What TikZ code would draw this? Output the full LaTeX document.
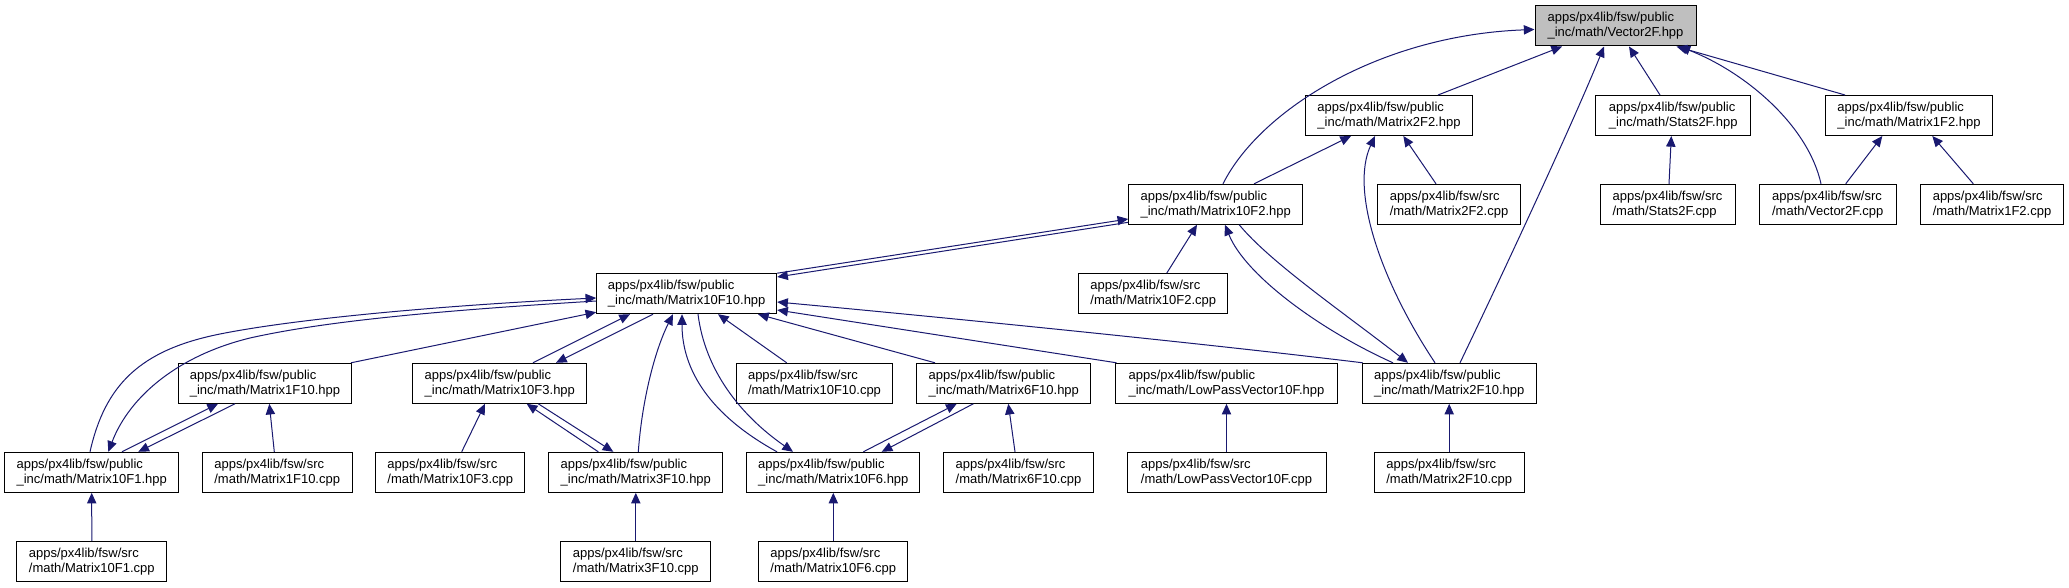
\documentclass[tikz,border=0pt]{standalone}
\usepackage{fontspec}
\setmainfont{Liberation Sans}
\usetikzlibrary{arrows.meta,calc}
\definecolor{edgeblue}{RGB}{25,25,112}
\definecolor{hlgray}{RGB}{191,191,191}
\begin{document}
\begin{tikzpicture}[x=0.75pt,y=-0.75pt,
  box/.style={draw=black,line width=0.75pt,minimum height=30pt,inner sep=0pt,align=left,
    font=\fontsize{9.75}{11.25}\selectfont},
  hl/.style={box,fill=hlgray},
  wd/.style={minimum width=#1*0.75pt},
  edge/.style={draw=edgeblue,line width=0.75pt,-{Triangle[length=8pt,width=7pt]}}]
\fill[white] (0,0) rectangle (2069,588);
\useasboundingbox (0,0) rectangle (2069,588);

% row 0
\node[hl,wd=161] (V2F) at (1615.5,26) {apps/px4lib/fsw/public\\\_inc/math/Vector2F.hpp};
% row 1
\node[box,wd=166.6] (M2F2) at (1389,115.5) {apps/px4lib/fsw/public\\\_inc/math/Matrix2F2.hpp};
\node[box,wd=155] (S2F) at (1673.2,115.5) {apps/px4lib/fsw/public\\\_inc/math/Stats2F.hpp};
\node[box,wd=166.6] (M1F2) at (1909,115.5) {apps/px4lib/fsw/public\\\_inc/math/Matrix1F2.hpp};
% row 2
\node[box,wd=174] (M10F2) at (1215.7,204.3) {apps/px4lib/fsw/public\\\_inc/math/Matrix10F2.hpp};
\node[box,wd=142.6] (M2F2c) at (1449,204.3) {apps/px4lib/fsw/src\\/math/Matrix2F2.cpp};
\node[box,wd=135] (S2Fc) at (1667.5,204.3) {apps/px4lib/fsw/src\\/math/Stats2F.cpp};
\node[box,wd=137.3] (V2Fc) at (1827.7,204.3) {apps/px4lib/fsw/src\\/math/Vector2F.cpp};
\node[box,wd=142.6] (M1F2c) at (1992,204.3) {apps/px4lib/fsw/src\\/math/Matrix1F2.cpp};
% row 3
\node[box,wd=180] (M10F10) at (686.7,293.7) {apps/px4lib/fsw/public\\\_inc/math/Matrix10F10.hpp};
\node[box,wd=149.3] (M10F2c) at (1153.3,293.7) {apps/px4lib/fsw/src\\/math/Matrix10F2.cpp};
% row 4
\node[box,wd=173.4] (M1F10) at (265,383.3) {apps/px4lib/fsw/public\\\_inc/math/Matrix1F10.hpp};
\node[box,wd=173.7] (M10F3) at (499.8,383.3) {apps/px4lib/fsw/public\\\_inc/math/Matrix10F3.hpp};
\node[box,wd=155.6] (M10F10c) at (814.5,383.3) {apps/px4lib/fsw/src\\/math/Matrix10F10.cpp};
\node[box,wd=173.7] (M6F10) at (1003.8,383.3) {apps/px4lib/fsw/public\\\_inc/math/Matrix6F10.hpp};
\node[box,wd=222.4] (LPV) at (1226.5,383.3) {apps/px4lib/fsw/public\\\_inc/math/LowPassVector10F.hpp};
\node[box,wd=173.7] (M2F10) at (1449.2,383.3) {apps/px4lib/fsw/public\\\_inc/math/Matrix2F10.hpp};
% row 5
\node[box,wd=174] (M10F1) at (91.7,472.3) {apps/px4lib/fsw/public\\\_inc/math/Matrix10F1.hpp};
\node[box,wd=149.7] (M1F10c) at (277.2,472.3) {apps/px4lib/fsw/src\\/math/Matrix1F10.cpp};
\node[box,wd=149.3] (M10F3c) at (450.3,472.3) {apps/px4lib/fsw/src\\/math/Matrix10F3.cpp};
\node[box,wd=173.7] (M3F10) at (635.8,472.3) {apps/px4lib/fsw/public\\\_inc/math/Matrix3F10.hpp};
\node[box,wd=173.3] (M10F6) at (833.3,472.3) {apps/px4lib/fsw/public\\\_inc/math/Matrix10F6.hpp};
\node[box,wd=149.6] (M6F10c) at (1018.5,472.3) {apps/px4lib/fsw/src\\/math/Matrix6F10.cpp};
\node[box,wd=199] (LPVc) at (1226.5,472.3) {apps/px4lib/fsw/src\\/math/LowPassVector10F.cpp};
\node[box,wd=149.7] (M2F10c) at (1449.2,472.3) {apps/px4lib/fsw/src\\/math/Matrix2F10.cpp};
% row 6
\node[box,wd=149.7] (M10F1c) at (91.8,561.7) {apps/px4lib/fsw/src\\/math/Matrix10F1.cpp};
\node[box,wd=149.7] (M3F10c) at (635.8,561.7) {apps/px4lib/fsw/src\\/math/Matrix3F10.cpp};
\node[box,wd=149.3] (M10F6c) at (833.3,561.7) {apps/px4lib/fsw/src\\/math/Matrix10F6.cpp};

% edges into Vector2F
\draw[edge] ($(M2F2.north)+(49,0)$) -- ($(V2F.south)+(-53.5,0)$);
\draw[edge] ($(M10F2.north)+(7.3,0)$) .. controls (1260,110) and (1380,35) .. ($(V2F.west)+(0,3.5)$);
\draw[edge] ($(M2F10.north)+(10.8,0)$) .. controls (1495,290) and (1570,130) .. ($(V2F.south)+(-11.5,0)$);
\draw[edge] ($(S2F.north)+(-13.2,0)$) -- ($(V2F.south)+(13.5,0)$);
\draw[edge] ($(V2Fc.north)+(-6.7,0)$) .. controls (1808,125) and (1745,72) .. ($(V2F.south)+(64,0)$);
\draw[edge] ($(M1F2.north)+(-64,0)$) -- ($(V2F.south)+(61,0)$);
% row 1 parents
\draw[edge] ($(M10F2.north)+(38.3,0)$) -- ($(M2F2.south)+(-38,0)$);
\draw[edge] ($(M2F2c.north)+(-13,0)$) -- ($(M2F2.south)+(14.3,0)$);
\draw[edge] ($(M2F10.north)+(-14.2,0)$) .. controls (1380,280) and (1350,190) .. ($(M2F2.south)+(-14,0)$);
\draw[edge] ($(S2Fc.north)+(1.5,0)$) -- ($(S2F.south)+(-1.9,0)$);
\draw[edge] ($(V2Fc.north)+(18,0)$) -- ($(M1F2.south)+(-26.7,0)$);
\draw[edge] ($(M1F2c.north)+(-18.7,0)$) -- ($(M1F2.south)+(23.3,0)$);
% Matrix10F2
\draw[edge] (M10F10.north east) -- ($(M10F2.west)+(0,14.7)$);
\draw[edge] ($(M10F2.west)+(0,18)$) -- ($(M10F10.east)+(0,-16.7)$);
\draw[edge] ($(M10F2c.north)+(13.4,0)$) -- ($(M10F2.south)+(-18.7,0)$);
\draw[edge] ($(M2F10.north)+(-56.2,0)$) .. controls (1320,330) and (1245,275) .. ($(M10F2.south)+(9.3,0)$);
\draw[edge] ($(M10F2.south)+(23.5,0)$) .. controls (1270,262) and (1340,310) .. ($(M2F10.north)+(-41.2,0)$);
% Matrix10F10
\draw[edge] ($(M10F1.north)+(-1.7,0)$) .. controls (105,385) and (140,350) .. (220,334)
  .. controls (300,318) and (450,305) .. ($(M10F10.west)+(0,4.3)$);
\draw[edge] ($(M10F10.west)+(0,7.3)$) .. controls (450,310) and (330,320) .. (250,338)
  .. controls (180,355) and (130,395) .. ($(M10F1.north)+(16.6,0)$);
\draw[edge] ($(M1F10.north)+(86,0)$) -- ($(M10F10.south west)+(0,-2)$);
\draw[edge] ($(M10F3.north)+(33.2,0)$) -- ($(M10F10.south)+(-56.7,0)$);
\draw[edge] ($(M10F10.south)+(-33.7,0)$) -- ($(M10F3.north)+(56.2,0)$);
\draw[edge] ($(M3F10.north)+(2.5,0)$) .. controls (642,400) and (655,350) .. ($(M10F10.south)+(-13.7,0)$);
\draw[edge] ($(M10F6.north)+(-56.3,0)$) .. controls (710,415) and (682,370) .. ($(M10F10.south)+(-4.7,0)$);
\draw[edge] ($(M10F10.south)+(11.3,0)$) .. controls (705,370) and (740,415) .. ($(M10F6.north)+(-40.3,0)$);
\draw[edge] ($(M10F10c.north)+(-27.8,0)$) -- ($(M10F10.south)+(31.3,0)$);
\draw[edge] ($(M6F10.north)+(-68.8,0)$) -- ($(M10F10.south)+(71.3,0)$);
\draw[edge] ($(LPV.north)+(-110,0)$) -- ($(M10F10.east)+(0,16.3)$);
\draw[edge] ($(M2F10.north)+(-86.5,0)$) .. controls (1200,343) and (950,318) .. ($(M10F10.east)+(0,8.3)$);
% row 4/5 pairs
\draw[edge] ($(M10F1.north)+(30.3,0)$) -- ($(M1F10.south)+(-47,0)$);
\draw[edge] ($(M1F10.south)+(-30,0)$) -- ($(M10F1.north)+(46.6,0)$);
\draw[edge] ($(M1F10c.north)+(-2.9,0)$) -- ($(M1F10.south)+(4.3,0)$);
\draw[edge] (M10F1c.north) -- (M10F1.south);
\draw[edge] ($(M10F3c.north)+(11.4,0)$) -- ($(M10F3.south)+(-14.8,0)$);
\draw[edge] ($(M3F10.north)+(-37.5,0)$) -- ($(M10F3.south)+(26.9,0)$);
\draw[edge] ($(M10F3.south)+(38.5,0)$) -- ($(M3F10.north)+(-22.5,0)$);
\draw[edge] (M3F10c.north) -- (M3F10.south);
\draw[edge] ($(M10F6.north)+(30,0)$) -- ($(M6F10.south)+(-47.1,0)$);
\draw[edge] ($(M6F10.south)+(-30.5,0)$) -- ($(M10F6.north)+(48.4,0)$);
\draw[edge] ($(M6F10c.north)+(-3.5,0)$) -- ($(M6F10.south)+(4.5,0)$);
\draw[edge] (M10F6c.north) -- (M10F6.south);
\draw[edge] (LPVc.north) -- (LPV.south);
\draw[edge] (M2F10c.north) -- (M2F10.south);
\end{tikzpicture}
\end{document}
